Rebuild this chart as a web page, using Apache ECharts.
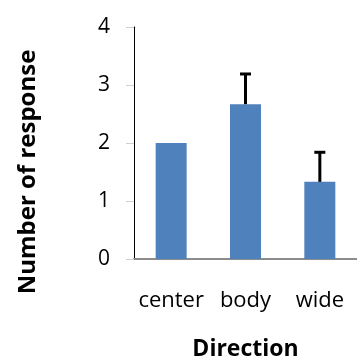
<!DOCTYPE html>
<html>
<head>
<meta charset="utf-8">
<script src="https://cdn.jsdelivr.net/npm/echarts@6/dist/echarts.min.js"></script>
<style>html,body{margin:0;padding:0;background:#fff;}#c{width:357px;height:356px;}</style>
</head>
<body>
<div id="c"></div>
<script>
const categories = ['center', 'body', 'wide'];
const values = [2, 2.67, 1.33];
const errorTop = [null, 3.19, 1.84];
const yTicks = [0, 1, 2, 3, 4];
const xTitle = 'Direction';
const yTitle = 'Number of response';

const FONT = 'Open Sans';
const chart = echarts.init(document.getElementById('c'), null, {renderer: 'canvas'});
chart.setOption({
  animation: false,
  grid: {left: 134, right: -10, top: 27, bottom: 97, containLabel: false},
  xAxis: {
    type: 'category',
    data: categories,
    axisLine: {lineStyle: {color: '#8c8c8c', width: 2}},
    axisTick: {show: false},
    axisLabel: {color: '#000', fontFamily: FONT, fontSize: 22, margin: 31, interval: 0, hideOverlap: false}
  },
  yAxis: {
    type: 'value',
    min: yTicks[0], max: yTicks[yTicks.length - 1], interval: 1,
    axisLine: {show: true, lineStyle: {color: '#000', width: 1}},
    axisTick: {show: true, length: 8, lineStyle: {color: '#d0d0d0'}},
    splitLine: {show: false},
    axisLabel: {color: '#000', fontFamily: FONT, fontSize: 21, margin: 24}
  },
  series: [
    {
      type: 'bar',
      data: values,
      barWidth: 31,
      itemStyle: {color: '#4F81BD'},
      z: 2
    },
    {
      type: 'custom',
      z: 3,
      data: errorTop.map((t, i) => [i, values[i], t]),
      renderItem: function (params, api) {
        const top = api.value(2);
        if (top === null || top === undefined || isNaN(top)) return null;
        const i = api.value(0);
        const p0 = api.coord([i, api.value(1)]);
        const p1 = api.coord([i, top]);
        const hw = 5.5;
        return {
          type: 'group',
          children: [
            {type: 'line', shape: {x1: p0[0], y1: p0[1], x2: p1[0], y2: p1[1]}, style: {stroke: '#000', lineWidth: 3}},
            {type: 'line', shape: {x1: p1[0] - hw, y1: p1[1], x2: p1[0] + hw, y2: p1[1]}, style: {stroke: '#000', lineWidth: 3}}
          ]
        };
      }
    }
  ],
  graphic: [
    {type: 'text', x: 245.5, y: 349, style: {text: xTitle, fontFamily: FONT, fontWeight: 'bold', fontSize: 23, fill: '#000', align: 'center', verticalAlign: 'middle'}},
    {type: 'text', x: 28, y: 172, rotation: Math.PI / 2, style: {text: yTitle, fontFamily: FONT, fontWeight: 'bold', fontSize: 24, fill: '#000', align: 'center', verticalAlign: 'middle'}}
  ]
});
</script>
</body>
</html>
